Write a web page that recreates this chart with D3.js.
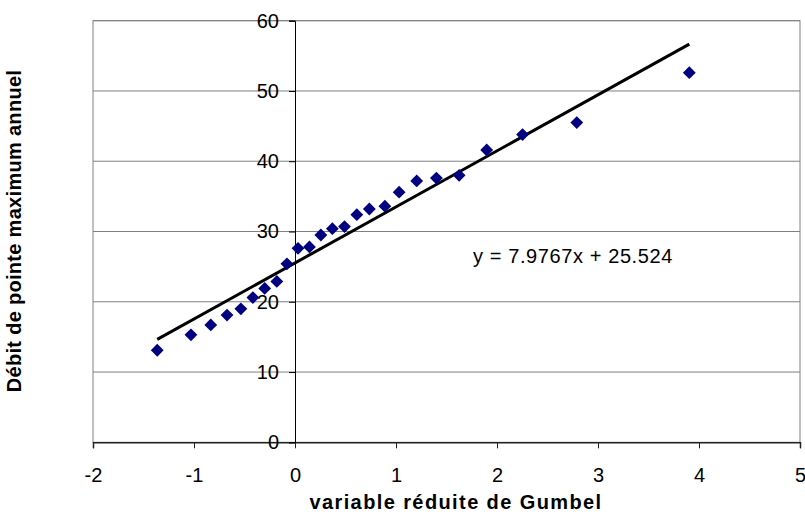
<!DOCTYPE html>
<html>
<head>
<meta charset="utf-8">
<script src="https://cdn.jsdelivr.net/npm/d3@7"></script>
<style>
  body { margin: 0; background: #fff; }
  text { font-family: "Liberation Sans", Arial, sans-serif; }
</style>
</head>
<body>
<div id="chart"></div>
<script>
// Gumbel reduced variate (x) and annual peak discharge (y)
var gumbelX = [-1.364, -1.03, -0.834, -0.673, -0.536, -0.417, -0.300, -0.180, -0.080, 0.030,
               0.143, 0.256, 0.370, 0.490, 0.612, 0.736, 0.890, 1.031, 1.205, 1.400,
               1.625, 1.898, 2.253, 2.790, 3.904];
var debit = [13.1, 15.3, 16.7, 18.1, 19.0, 20.6, 21.9, 22.9, 25.4, 27.6,
             27.8, 29.5, 30.4, 30.7, 32.4, 33.2, 33.6, 35.6, 37.2, 37.6,
             38.0, 41.6, 43.8, 45.5, 52.6];
var slope = 7.9767;
var intercept = 25.524;
var xTicks = [-2, -1, 0, 1, 2, 3, 4, 5];
var yTicks = [0, 10, 20, 30, 40, 50, 60];

var width = 805;
var height = 514;
// plot area edges (note: "top" is reserved on window, so use other names)
var plotL = 93, plotR = 800, plotT = 20.7, plotB = 442.3;

var svg = d3.select("#chart")
  .append("svg")
  .attr("width", width)
  .attr("height", height);

var x = d3.scaleLinear().domain([-2, 5]).range([plotL, plotR]);
var y = d3.scaleLinear().domain([0, 60]).range([plotB, plotT]);

// horizontal gridlines
svg.append("g")
  .selectAll("line")
  .data(yTicks.filter(function(d) { return d > 0; }))
  .enter()
  .append("line")
  .attr("x1", plotL)
  .attr("x2", plotR)
  .attr("y1", function(d) { return y(d); })
  .attr("y2", function(d) { return y(d); })
  .attr("stroke", "#808080")
  .attr("stroke-width", 1);

// plot border
svg.append("rect")
  .attr("x", plotL)
  .attr("y", plotT)
  .attr("width", plotR - plotL)
  .attr("height", plotB - plotT)
  .attr("fill", "none")
  .attr("stroke", "#808080")
  .attr("stroke-width", 1);

// x axis at y = 0
var xAxis = svg.append("g")
  .attr("transform", "translate(0," + y(0) + ")")
  .call(d3.axisBottom(x).tickValues(xTicks).tickSize(6).tickPadding(20).tickFormat(d3.format("d")));
xAxis.select(".domain").attr("stroke", "#222").attr("stroke-width", 1.5);
xAxis.selectAll(".tick line").attr("stroke", "#222");
xAxis.selectAll("text")
  .attr("font-size", "20px")
  .attr("fill", "#000")
  .attr("font-family", "Liberation Sans, Arial, sans-serif")
  .text(function(d) { return d < 0 ? "-" + Math.abs(d) : d; });

// y axis at x = 0
var yAxis = svg.append("g")
  .attr("transform", "translate(" + x(0) + ",0)")
  .call(d3.axisLeft(y).tickValues(yTicks).tickSize(6).tickPadding(10));
yAxis.select(".domain").attr("stroke", "#000").attr("stroke-width", 1);
yAxis.selectAll(".tick line").attr("stroke", "#000");
yAxis.selectAll("text")
  .attr("font-size", "20px")
  .attr("fill", "#000")
  .attr("font-family", "Liberation Sans, Arial, sans-serif");

// trend line
var xMin = d3.min(gumbelX), xMax = d3.max(gumbelX);
svg.append("line")
  .attr("x1", x(xMin))
  .attr("y1", y(slope * xMin + intercept))
  .attr("x2", x(xMax))
  .attr("y2", y(slope * xMax + intercept))
  .attr("stroke", "#000")
  .attr("stroke-width", 3);

// points
var diamond = d3.symbol().type(d3.symbolSquare).size(82);
svg.append("g")
  .selectAll("path")
  .data(gumbelX)
  .enter()
  .append("path")
  .attr("d", diamond)
  .attr("transform", function(d, i) {
    return "translate(" + x(d) + "," + y(debit[i]) + ") rotate(45)";
  })
  .attr("fill", "#000080");

// equation label
svg.append("text")
  .attr("x", 473)
  .attr("y", 263)
  .attr("font-size", "20px")
  .attr("letter-spacing", "0.6px")
  .text("y = " + slope + "x + " + intercept);

// axis titles
svg.append("text")
  .attr("x", 456)
  .attr("y", 509)
  .attr("text-anchor", "middle")
  .attr("font-size", "20px")
  .attr("font-weight", "bold")
  .attr("letter-spacing", "1.4px")
  .text("variable réduite de Gumbel");

svg.append("text")
  .attr("transform", "translate(21,231) rotate(-90)")
  .attr("text-anchor", "middle")
  .attr("font-size", "20px")
  .attr("font-weight", "bold")
  .attr("letter-spacing", "0.3px")
  .text("Débit de pointe maximum annuel");
</script>
</body>
</html>
